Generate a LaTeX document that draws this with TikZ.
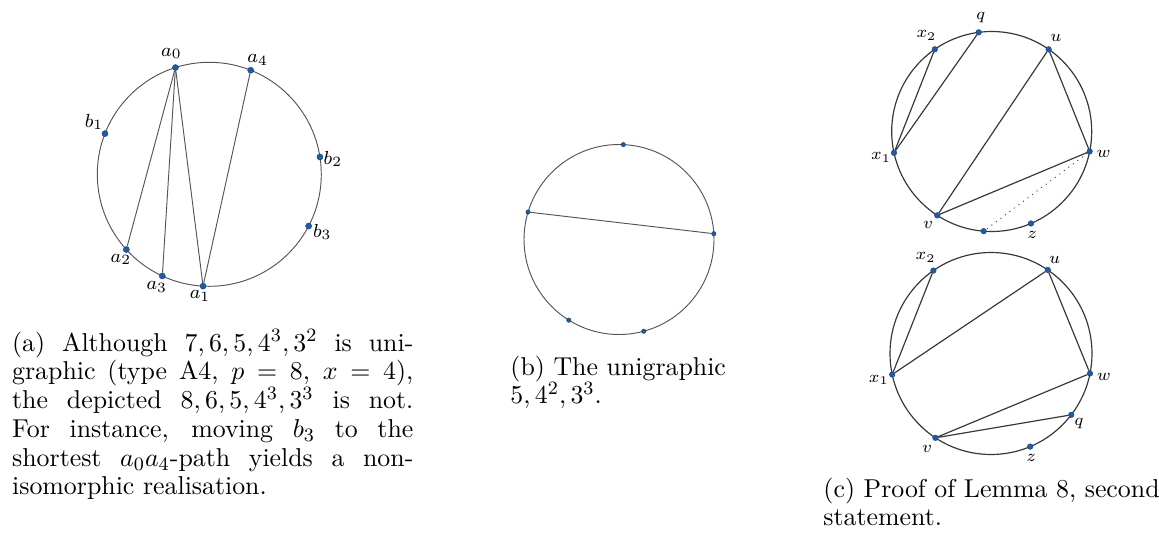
\documentclass[tikz,border=0pt]{standalone}
\usetikzlibrary{calc}
\definecolor{dotblue}{RGB}{25,92,178}
\definecolor{dotedge}{RGB}{20,60,125}
\definecolor{ringA}{RGB}{85,85,85}
\definecolor{ringC}{RGB}{55,55,55}
\begin{document}
\begin{tikzpicture}[x=0.4237pt,y=0.4237pt,
  vtxA/.style={circle,fill=dotblue,draw=dotedge,line width=0.15pt,inner sep=0pt,minimum size=2.6pt},
  vtxB/.style={vtxA,minimum size=1.9pt},
  vtxC/.style={vtxA,minimum size=2.4pt},
  ringa/.style={draw=ringA,line width=0.4pt},
  ringc/.style={draw=ringC,line width=0.5pt},
  chorda/.style={draw=ringA,line width=0.4pt},
  chordc/.style={draw=ringC,line width=0.5pt},
  dottedc/.style={draw=ringC,line width=0.4pt,dotted},
  labA/.style={inner sep=0pt,font=\footnotesize},
  labC/.style={inner sep=0pt,font=\scriptsize},
  captext/.style={anchor=base west,inner sep=0pt,font=\fontsize{10.95}{12.2}\selectfont}]
\useasboundingbox (0,0) rectangle (1159,540);
% ---------- (a) ----------
\coordinate (ca) at (209.3,365.7);
\draw[ringa] (ca) circle[radius=112];
\path (ca) ++(107.6:112) node[vtxA] (a0) {};
\path (ca) ++(68.3:112) node[vtxA] (a4) {};
\path (ca) ++(158.7:112) node[vtxA] (b1) {};
\path (ca) ++(8.9:112) node[vtxA] (b2) {};
\path (ca) ++(-27.5:112) node[vtxA] (b3) {};
\path (ca) ++(222.2:112) node[vtxA] (a2) {};
\path (ca) ++(245.2:112) node[vtxA] (a3) {};
\path (ca) ++(266.8:112) node[vtxA] (a1) {};
\draw[chorda] (a0) -- (a2);
\draw[chorda] (a0) -- (a3);
\draw[chorda] (a0) -- (a1);
\draw[chorda] (a1) -- (a4);
\node[labA] (la0) at ($(a0)+(-4,14)$) {$a_0$};
\node[labA] (la4) at ($(a4)+(7,10)$) {$a_4$};
\node[labA] (lb1) at ($(b1)+(-11,11.6)$) {$b_1$};
\node[labA] (lb2) at ($(b2)+(13,-2)$) {$b_2$};
\node[labA] (lb3) at ($(b3)+(13.6,-5.8)$) {$b_3$};
\node[labA] (la2) at ($(a2)+(-5.4,-10)$) {$a_2$};
\node[labA] (la3) at ($(a3)+(-5.5,-11)$) {$a_3$};
\node[labA] (la1) at ($(a1)+(-3,-9.7)$) {$a_1$};
\node[captext] (capa) at (11.7,189) {\parbox[t]{170pt}{(a) Although $7,6,5,4^3,3^2$ is uni-\linebreak
graphic (type A4, $p=8$, $x=4$),\linebreak
the depicted $8,6,5,4^3,3^3$ is not.\linebreak
For instance, moving $b_3$ to the\linebreak
shortest $a_0a_4$-path yields a non-\linebreak
isomorphic realisation.}};
% ---------- (b) ----------
\coordinate (cb) at (619,300.5);
\draw[ringa] (cb) circle[radius=95];
\path (cb) ++(87.4:95) node[vtxB] (p1) {};
\path (cb) ++(163.2:95) node[vtxB] (p2) {};
\path (cb) ++(3.5:95) node[vtxB] (p3) {};
\path (cb) ++(238.1:95) node[vtxB] (p4) {};
\path (cb) ++(285.1:95) node[vtxB] (p5) {};
\draw[chorda] (p2) -- (p3);
\node[captext] (capb) at (510,165) {\parbox[t]{110pt}{\raggedright (b) The unigraphic\\ $5,4^2,3^3$.}};
% ---------- (c) top ----------
\coordinate (ct) at (991.7,408.5);
\draw[ringc] (ct) circle[radius=100];
\path (ct) ++(97.5:100) node[vtxC] (tq) {};
\path (ct) ++(124.7:100) node[vtxC] (tx2) {};
\path (ct) ++(55.3:100) node[vtxC] (tu) {};
\path (ct) ++(192.3:100) node[vtxC] (tx1) {};
\path (ct) ++(-11.5:100) node[vtxC] (tw) {};
\path (ct) ++(237:100) node[vtxC] (tv) {};
\path (ct) ++(265.4:100) node[vtxC] (tp) {};
\path (ct) ++(293.1:100) node[vtxC] (tz) {};
\draw[chordc] (tx2) -- (tx1);
\draw[chordc] (tq) -- (tx1);
\draw[chordc] (tu) -- (tv);
\draw[chordc] (tu) -- (tw);
\draw[chordc] (tw) -- (tv);
\draw[dottedc] (tw) -- (tp);
\node[labC] (ltq) at ($(tq)+(2,15)$) {$q$};
\node[labC] (ltx2) at ($(tx2)+(-8.3,13.9)$) {$x_2$};
\node[labC] (ltu) at ($(tu)+(7.4,11.4)$) {$u$};
\node[labC] (ltx1) at ($(tx1)+(-13,-4.6)$) {$x_1$};
\node[labC] (ltw) at ($(tw)+(14,-3)$) {$w$};
\node[labC] (ltv) at ($(tv)+(-9,-10)$) {$v$};
\node[labC] (ltz) at ($(tz)+(1.3,-11.3)$) {$z$};
% ---------- (c) bottom ----------
\coordinate (cl) at (991,186.5);
\draw[ringc] (cl) circle[radius=101];
\path (cl) ++(124.8:101) node[vtxC] (bx2) {};
\path (cl) ++(55.8:101) node[vtxC] (bu) {};
\path (cl) ++(192:101) node[vtxC] (bx1) {};
\path (cl) ++(-11.4:101) node[vtxC] (bw) {};
\path (cl) ++(-37.4:101) node[vtxC] (bq) {};
\path (cl) ++(236.6:101) node[vtxC] (bv) {};
\path (cl) ++(292.8:101) node[vtxC] (bz) {};
\draw[chordc] (bx2) -- (bx1);
\draw[chordc] (bx1) -- (bu);
\draw[chordc] (bu) -- (bw);
\draw[chordc] (bw) -- (bv);
\draw[chordc] (bv) -- (bq);
\node[labC] (lbx2) at ($(bx2)+(-7.7,13)$) {$x_2$};
\node[labC] (lbu) at ($(bu)+(7,9.7)$) {$u$};
\node[labC] (lbx1) at ($(bx1)+(-13.3,-5.3)$) {$x_1$};
\node[labC] (lbw) at ($(bw)+(14,-3)$) {$w$};
\node[labC] (lbq) at ($(bq)+(7.7,-8.3)$) {$q$};
\node[labC] (lbv) at ($(bv)+(-8.3,-11)$) {$v$};
\node[labC] (lbz) at ($(bz)+(1,-11.3)$) {$z$};
\node[captext] (capc) at (823,43) {\parbox[t]{150pt}{\raggedright (c) Proof of Lemma 8, second\\ statement.}};
\end{tikzpicture}
\end{document}
